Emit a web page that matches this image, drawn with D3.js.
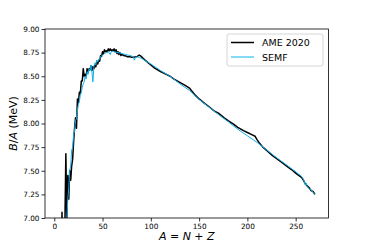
<!DOCTYPE html>
<html>
<head>
<meta charset="utf-8">
<script src="https://cdn.jsdelivr.net/npm/d3@7"></script>
<style>
  body { margin: 0; background: #fff; }
  svg { display: block; font-family: "DejaVu Sans", sans-serif; }
</style>
</head>
<body>
<div id="chart"></div>
<script>
// AME 2020 binding energy per nucleon (MeV)
const ameA = [5,6,7,8,9,10,11,12,13,14,15,16,17,18,19,20,21,22,23,24,25,26,27,28,29,30,
  31,32,33,34,35,36,37,38,39,40,41,42,43,44,45,46,47,48,49,50,51,52,53,54,55,56,57,58,59,60,
  61,62,63,64,65,66,67,68,69,70,72,74,76,78,80,82,84,86,88,90,92,94,96,98,100,104,110,116,
  120,124,130,136,140,142,146,150,156,160,166,170,176,180,186,190,196,200,204,208,210,212,
  216,220,226,230,236,240,246,250,256,258,260,262,264,266,268,270];
const ameBA = [5.51,5.33,5.61,7.06,6.46,6.48,6.93,7.68,6.95,7.45,7.20,7.50,7.40,7.55,7.62,7.80,
  7.95,8.06,7.95,8.26,8.22,8.33,8.32,8.45,8.45,8.58,8.50,8.52,8.50,8.58,8.54,8.58,8.57,8.61,
  8.56,8.60,8.58,8.62,8.60,8.66,8.63,8.67,8.66,8.72,8.71,8.76,8.74,8.78,8.76,8.77,8.76,8.79,
  8.77,8.79,8.77,8.78,8.77,8.79,8.76,8.78,8.74,8.76,8.73,8.75,8.72,8.73,8.72,8.715,8.705,
  8.71,8.70,8.70,8.705,8.71,8.725,8.71,8.69,8.67,8.655,8.635,8.62,8.585,8.55,8.52,8.50,8.47,
  8.435,8.40,8.375,8.35,8.30,8.26,8.21,8.18,8.13,8.11,8.06,8.03,7.99,7.96,7.925,7.905,7.885,
  7.865,7.83,7.80,7.75,7.715,7.66,7.63,7.585,7.555,7.51,7.475,7.43,7.40,7.36,7.34,7.32,7.29,
  7.28,7.25];

const semfA = [12,13,14,15,16,17,18,19,20,21,22,23,24,25,26,27,28,29,30,31,32,33,34,35,36,37,
  38,39,40,41,42,43,44,45,46,47,48,50,52,54,56,58,59,60,62,64,66,68,70,74,78,80,82,83,84,86,
  88,90,95,100,110,120,130,140,150,160,170,180,190,200,210,220,230,240,250,256,258,259,260,
  261,262,264,266,268,270];
const semfBA = [6.80,6.98,7.20,7.32,7.50,7.55,7.72,7.74,7.88,7.92,8.03,8.05,8.14,8.20,8.24,8.30,
  8.33,8.38,8.42,8.44,8.50,8.47,8.55,8.52,8.58,8.56,8.62,8.55,8.44,8.60,8.64,8.62,8.67,8.65,
  8.68,8.68,8.71,8.72,8.74,8.75,8.76,8.73,8.76,8.765,8.76,8.755,8.75,8.745,8.74,8.73,8.72,
  8.715,8.70,8.67,8.70,8.705,8.70,8.69,8.66,8.63,8.56,8.50,8.42,8.35,8.255,8.175,8.095,8.02,
  7.94,7.87,7.80,7.72,7.64,7.565,7.49,7.44,7.41,7.38,7.35,7.37,7.33,7.31,7.30,7.27,7.25];

const xTicks = [0, 50, 100, 150, 200, 250];
const yTicks = [7.00, 7.25, 7.50, 7.75, 8.00, 8.25, 8.50, 8.75, 9.00];
const seriesNames = ["AME 2020", "SEMF"];
const seriesColors = ["#000000", "#12b0e8"];

const width = 365, height = 245;
const margin = { top: 29, right: 36.5, bottom: 27, left: 45 };

const svg = d3.select("#chart").append("svg")
  .attr("width", width)
  .attr("height", height);

const x = d3.scaleLinear().domain([-9.6, 284]).range([margin.left, width - margin.right]);
const y = d3.scaleLinear().domain([7, 9]).range([height - margin.bottom, margin.top]);

svg.append("defs").append("clipPath").attr("id", "plot-clip")
  .append("rect")
  .attr("x", margin.left).attr("y", margin.top)
  .attr("width", width - margin.left - margin.right)
  .attr("height", height - margin.top - margin.bottom);

const line = d3.line().x(d => x(d[0])).y(d => y(d[1]));

const plot = svg.append("g").attr("clip-path", "url(#plot-clip)");

plot.append("path")
  .datum(d3.zip(ameA, ameBA))
  .attr("fill", "none")
  .attr("stroke", seriesColors[0])
  .attr("stroke-width", 1.5)
  .attr("stroke-linejoin", "round")
  .attr("d", line);

plot.append("path")
  .datum(d3.zip(semfA, semfBA))
  .attr("fill", "none")
  .attr("stroke", seriesColors[1])
  .attr("stroke-width", 1)
  .attr("stroke-linejoin", "round")
  .attr("d", line);

// axes
const xAxis = svg.append("g")
  .attr("transform", `translate(0,${height - margin.bottom})`)
  .call(d3.axisBottom(x).tickValues(xTicks).tickSize(3.5).tickPadding(2).tickFormat(d3.format("d")));
const yAxis = svg.append("g")
  .attr("transform", `translate(${margin.left},0)`)
  .call(d3.axisLeft(y).tickValues(yTicks).tickSize(3.5).tickPadding(2).tickFormat(d3.format(".2f")));

[xAxis, yAxis].forEach(ax => {
  ax.select(".domain").remove();
  ax.selectAll("line").attr("stroke", "#000").attr("stroke-width", 0.8);
  ax.selectAll("text").attr("font-size", 7.3).attr("fill", "#000")
    .attr("font-family", "DejaVu Sans, sans-serif");
});

svg.append("rect")
  .attr("x", margin.left).attr("y", margin.top)
  .attr("width", width - margin.left - margin.right)
  .attr("height", height - margin.top - margin.bottom)
  .attr("fill", "none").attr("stroke", "#000").attr("stroke-width", 0.8);

// axis labels
const xl = svg.append("text")
  .attr("x", (margin.left + width - margin.right) / 2)
  .attr("y", 240)
  .attr("text-anchor", "middle")
  .attr("font-size", 11);
xl.append("tspan").attr("font-style", "italic").text("A");
xl.append("tspan").text(" = ");
xl.append("tspan").attr("font-style", "italic").text("N");
xl.append("tspan").text(" + ");
xl.append("tspan").attr("font-style", "italic").text("Z");

const yl = svg.append("text")
  .attr("transform", `translate(16.5,${(margin.top + height - margin.bottom) / 2}) rotate(-90)`)
  .attr("text-anchor", "middle")
  .attr("font-size", 11);
yl.append("tspan").attr("font-style", "italic").text("B");
yl.append("tspan").text("/");
yl.append("tspan").attr("font-style", "italic").text("A");
yl.append("tspan").text(" (MeV)");

// legend
const legend = svg.append("g");
legend.append("rect")
  .attr("x", 227).attr("y", 34).attr("width", 96).attr("height", 32).attr("rx", 2)
  .attr("fill", "#fff").attr("fill-opacity", 0.8)
  .attr("stroke", "#cccccc").attr("stroke-width", 0.8);

seriesNames.forEach((name, i) => {
  const ly = 42.5 + i * 14.5;
  legend.append("line")
    .attr("x1", 231).attr("x2", 254).attr("y1", ly).attr("y2", ly)
    .attr("stroke", i === 0 ? seriesColors[0] : "#5ccff5")
    .attr("stroke-width", 1.5);
  legend.append("text")
    .attr("x", 262).attr("y", ly + 3.5)
    .attr("font-size", 9.5)
    .text(name);
});
</script>
</body>
</html>
